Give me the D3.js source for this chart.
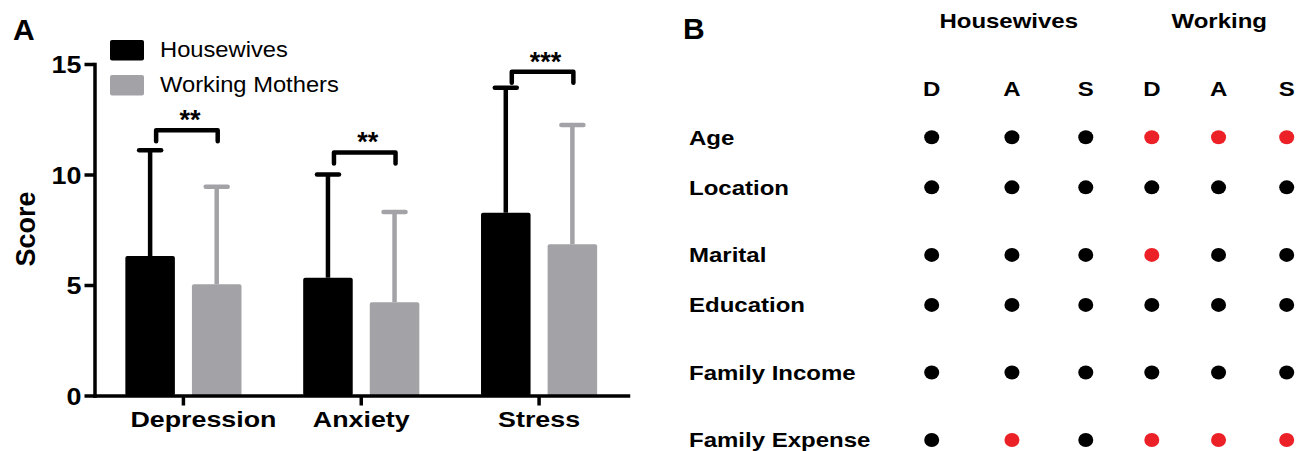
<!DOCTYPE html>
<html lang="en">
  <head>
    <meta charset="UTF-8" />
    <title>DASS scores and demographic associations</title>
    <script src="https://cdn.jsdelivr.net/npm/d3@7/dist/d3.min.js"></script>
    <style>
      body { margin: 0; background: #fff; }
      svg { display: block; font-family: 'Liberation Sans', Arial, Helvetica, sans-serif; }
    </style>
  </head>
  <body>
    <div id="chart"></div>
    <script>
      // ---- panel A data ----
      const measures = ['Depression', 'Anxiety', 'Stress']
      const groups = ['Housewives', 'Working Mothers']
      const housewivesMean = [6.31, 5.33, 8.27]
      const housewivesSD = [4.79, 4.67, 5.66]
      const workingMean = [5.03, 4.22, 6.84]
      const workingSD = [4.42, 4.08, 5.40]
      const yTicks = [0, 5, 10, 15]
      const sigLabels = ['**', '**', '***']
      const sigLevel = [12.0, 11.0, 14.65] // bracket height in score units

      // ---- panel B data ----
      const factors = ['Age', 'Location', 'Marital', 'Education', 'Family Income', 'Family Expense']
      const colLabels = ['D', 'A', 'S', 'D', 'A', 'S']
      const colGroups = ['Housewives', 'Working']
      const significant = [
        [0, 0, 0, 1, 1, 1],
        [0, 0, 0, 0, 0, 0],
        [0, 0, 0, 1, 0, 0],
        [0, 0, 0, 0, 0, 0],
        [0, 0, 0, 0, 0, 0],
        [0, 1, 0, 1, 1, 1]
      ]

      // layout (not data): uneven spacing of the grid in panel B
      const rowSlot = [0, 1, 2.35, 3.35, 4.7, 6.05]
      const colSlot = [0, 1.13, 2.17, 3.1, 4.04, 5]

      const W = 1298, H = 451
      const grey = '#a3a3a7'
      const red = '#ec2127'

      const svg = d3.select('#chart').append('svg').attr('width', W).attr('height', H)

      // text with a horizontal stretch, the source figure is a bit wide
      function label(g, txt, x, y, size, opts = {}) {
        return g.append('text')
          .attr('transform', `translate(${x},${y}) scale(${opts.sx || 1},1)`)
          .attr('text-anchor', opts.anchor || 'start')
          .attr('font-size', size)
          .attr('font-weight', opts.weight || 'bold')
          .attr('fill', opts.fill || '#000')
          .text(txt)
      }

      // ================= panel A =================
      const a = svg.append('g')
      const y = d3.scaleLinear().domain([0, 15]).range([395.5, 64])
      const x = d3.scaleBand().domain(measures).range([94.5, 628])
        .paddingInner(0.347).paddingOuter(0.1735)
      const xg = d3.scaleBand().domain(groups).range([0, x.bandwidth()]).paddingInner(0.256)
      const color = d3.scaleOrdinal().domain(groups).range(['#000', grey])

      const rows = measures.map((m, i) => ({
        m,
        vals: [
          { g: groups[0], mean: housewivesMean[i], sd: housewivesSD[i] },
          { g: groups[1], mean: workingMean[i], sd: workingSD[i] }
        ]
      }))

      const cat = a.selectAll('.cat').data(rows).enter().append('g')
        .attr('transform', d => `translate(${x(d.m)},0)`)

      // error bars first, bars cover the stem start
      const eb = cat.selectAll('.eb').data(d => d.vals).enter().append('g')
        .attr('stroke', d => color(d.g))
        .attr('stroke-width', 4.5)
      eb.append('line')
        .attr('x1', d => xg(d.g) + xg.bandwidth() / 2)
        .attr('x2', d => xg(d.g) + xg.bandwidth() / 2)
        .attr('y1', d => y(d.mean))
        .attr('y2', d => y(d.mean + d.sd))
      eb.append('line')
        .attr('stroke-linecap', 'round')
        .attr('x1', d => xg(d.g) + xg.bandwidth() / 2 - 11)
        .attr('x2', d => xg(d.g) + xg.bandwidth() / 2 + 11)
        .attr('y1', d => y(d.mean + d.sd))
        .attr('y2', d => y(d.mean + d.sd))

      cat.selectAll('rect').data(d => d.vals).enter().append('rect')
        .attr('x', d => xg(d.g))
        .attr('width', xg.bandwidth())
        .attr('y', d => y(d.mean))
        .attr('height', d => y(0) - y(d.mean))
        .attr('rx', 2)
        .attr('fill', d => color(d.g))

      // significance brackets
      cat.each(function (d, i) {
        const g = d3.select(this)
        const x0 = xg(groups[0]) + xg.bandwidth() / 2 + 6
        const x1 = xg(groups[1]) + xg.bandwidth() / 2 + 1
        const top = y(sigLevel[i])
        const leg = y(sigLevel[i] - 0.5)
        g.append('path')
          .attr('d', `M${x0},${leg}V${top}H${x1}V${leg}`)
          .attr('fill', 'none')
          .attr('stroke', '#000')
          .attr('stroke-width', 4.5)
          .attr('stroke-linecap', 'round')
          .attr('stroke-linejoin', 'round')
        label(g, sigLabels[i], (x0 + x1) / 2 + 3, top - 1, 27, { anchor: 'middle' })
      })

      // axes
      const yAxis = a.append('g').attr('transform', 'translate(94.5,0)')
        .call(d3.axisLeft(y).tickValues(yTicks).tickSize(10).tickSizeOuter(0))
      const xAxis = a.append('g').attr('transform', `translate(0,${y(0)})`)
        .call(d3.axisBottom(x).tickSize(10).tickSizeOuter(0))
      ;[yAxis, xAxis].forEach(ax => {
        ax.select('.domain').attr('stroke-width', 3.5).attr('stroke-linecap', 'square')
        ax.selectAll('.tick line').attr('stroke-width', 3.5)
        ax.selectAll('.tick text').attr('fill', '#000').attr('font-family', null)
          .attr('font-weight', 'bold')
      })
      yAxis.selectAll('.tick text')
        .attr('x', null).attr('dy', '0.36em').attr('font-size', 24)
        .attr('transform', 'translate(-13,0) scale(1.12,1)')
      const labelShift = [20, 0, 0]
      xAxis.selectAll('.tick text')
        .attr('y', null).attr('dy', null).attr('font-size', 22)
        .attr('transform', (d, i) => `translate(${labelShift[i]},31.5) scale(1.22,1)`)

      label(a, 'Score', 0, 0, 27, { anchor: 'middle' })
        .attr('transform', 'translate(35,229) rotate(-90)')
      label(a, 'A', 13, 40, 30)

      // legend
      const leg = a.selectAll('.leg').data(groups).enter().append('g')
        .attr('transform', (d, i) => `translate(110,${40 + i * 35})`)
      leg.append('rect').attr('width', 34).attr('height', 20.5).attr('rx', 2)
        .attr('fill', d => color(d))
      leg.each(function (d) {
        label(d3.select(this), d, 50, 17.3, 22.5, { weight: 'normal', sx: 1.055 })
      })

      // ================= panel B =================
      const b = svg.append('g')
      const cx = d3.scaleLinear().domain([0, 5]).range([931.7, 1286.7])
      const ry = d3.scaleLinear().domain([0, 6.05]).range([137.3, 440])

      label(b, 'B', 683, 39, 30)

      colGroups.forEach((gname, gi) => {
        const mid = (cx(colSlot[gi * 3]) + cx(colSlot[gi * 3 + 2])) / 2
        label(b, gname, mid, 27.5, 20, { anchor: 'middle', sx: 1.2 })
      })
      colLabels.forEach((c, j) => {
        label(b, c, cx(colSlot[j]), 95.7, 20, { anchor: 'middle', sx: 1.2 })
      })

      const frow = b.selectAll('.frow').data(factors).enter().append('g')
        .attr('transform', (d, i) => `translate(0,${ry(rowSlot[i])})`)
      frow.each(function (d, i) {
        const g = d3.select(this)
        label(g, d, 689, 7.3, 20, { sx: 1.2 })
        g.selectAll('ellipse').data(significant[i]).enter().append('ellipse')
          .attr('cx', (v, j) => cx(colSlot[j]))
          .attr('cy', 0)
          .attr('rx', 7.5)
          .attr('ry', 7)
          .attr('fill', v => (v ? red : '#000'))
      })
    </script>
  </body>
</html>
